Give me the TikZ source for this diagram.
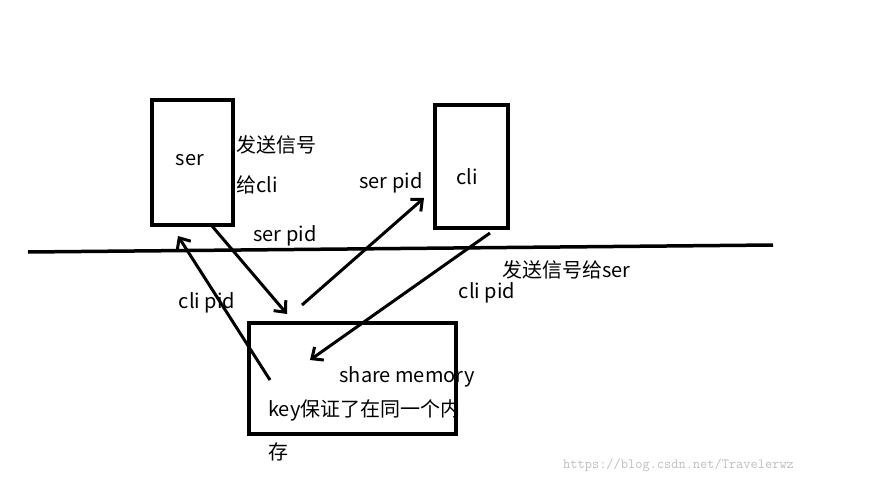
\documentclass[tikz,border=0pt]{standalone}
\usepackage{fontspec}
\setmainfont{Noto Sans CJK SC}
\usetikzlibrary{arrows.meta}
\begin{document}
\begin{tikzpicture}[x=1pt,y=-1pt,
  box/.style={draw,line width=3.5pt},
  arr/.style={line width=3pt,-{Straight Barb[length=9pt,width=16pt,line width=3pt]}},
  lbl/.style={font=\fontsize{20}{22}\selectfont,inner sep=0pt},
  wm/.style={font=\ttfamily\fontsize{14}{16}\selectfont,text=black!25,inner sep=0pt}]
\useasboundingbox[fill=white] (0,0) rectangle (895,484);
\node[box,minimum width=81pt,minimum height=125pt] (ser) at (192.5,162.5) {};
\node[lbl] at (190,160) {ser};
\node[box,minimum width=73pt,minimum height=123pt] (cli) at (471.5,166.5) {};
\node[lbl] at (467,177) {cli};
\node[box,minimum width=207pt,minimum height=111pt] (mem) at (352.5,378.5) {};
\coordinate (l1) at (28,252); \coordinate (l2) at (773,245);
\draw[line width=3.5pt] (l1) -- (l2);
\node[lbl,anchor=west] at (236,145) {发送信号};
\node[lbl,anchor=west] at (236,185) {给cli};
\node[lbl] at (285,236) {ser pid};
\node[lbl] at (391,183) {ser pid};
\node[lbl,anchor=west] at (502,270) {发送信号给ser};
\node[lbl] at (487,293) {cli pid};
\node[lbl] at (207,303) {cli pid};
\node[lbl] at (407,377) {share memory};
\node[lbl,anchor=west] at (268,410) {key保证了在同一个内};
\node[lbl,anchor=west] at (268,452) {存};
\node[wm,anchor=west] at (563,465) {https://blog.csdn.net/Travelerwz};
\coordinate (a1) at (270,380); \coordinate (a1e) at (178,236);
\draw[arr] (a1) -- (a1e);
\coordinate (a2) at (212,226); \coordinate (a2e) at (287,314);
\draw[arr] (a2) -- (a2e);
\coordinate (a3) at (302,305); \coordinate (a3e) at (424,198);
\draw[arr] (a3) -- (a3e);
\coordinate (a4) at (490,233); \coordinate (a4e) at (310,360);
\draw[arr] (a4) -- (a4e);
\end{tikzpicture}
\end{document}
